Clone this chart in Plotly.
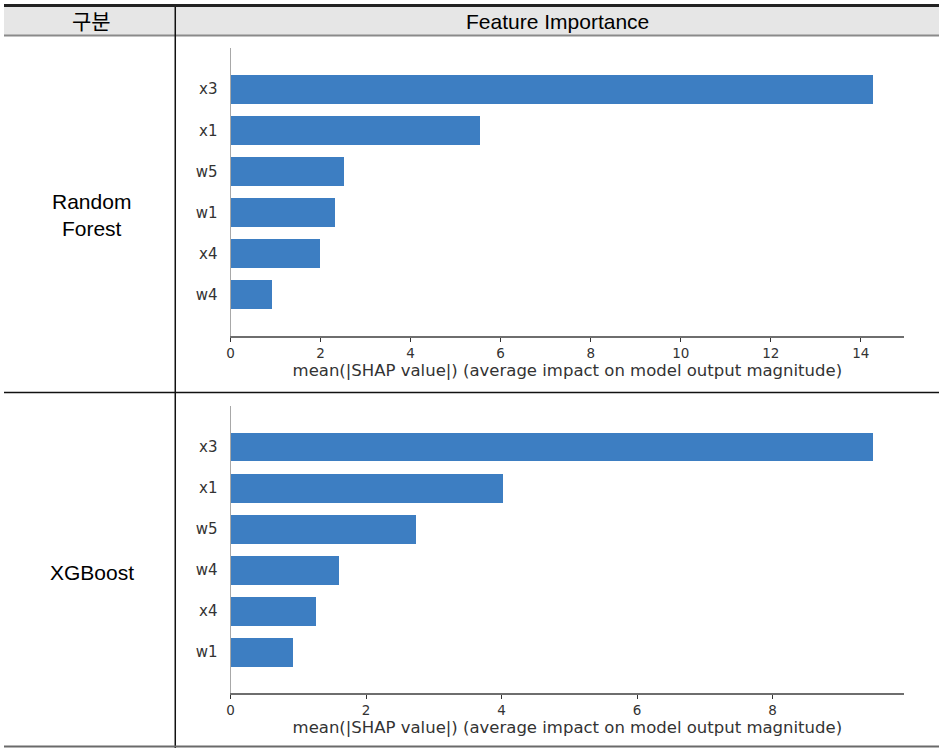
import plotly.graph_objects as go

# ---- data -------------------------------------------------------------
rf_features = ["x3", "x1", "w5", "w1", "x4", "w4"]
rf_importance = [14.25, 5.52, 2.50, 2.30, 1.98, 0.90]

xgb_features = ["x3", "x1", "w5", "w4", "x4", "w1"]
xgb_importance = [9.47, 4.01, 2.73, 1.60, 1.25, 0.92]

row_labels = ["Random<br>Forest", "XGBoost"]
header_labels = ["구분", "Feature Importance"]
x_title = "mean(|SHAP value|) (average impact on model output magnitude)"

# ---- page geometry ----------------------------------------------------
W, H = 939, 748
BAR_COLOR = "#3d7ec2"
AXIS_TXT = "#333333"
TABLE_FONT = "Liberation Sans, Noto Sans CJK KR, sans-serif"
PLOT_FONT = "DejaVu Sans, sans-serif"


def px_x(v):
    return v / W


def px_y(v):
    return 1 - v / H


fig = go.Figure()

panels = [
    (rf_features, rf_importance, "x", "y", (48, 336)),
    (xgb_features, xgb_importance, "x2", "y2", (405.7, 693.3)),
]

for i, (feats, vals, xa, ya, (top, bottom)) in enumerate(panels):
    n = len(feats)
    # SHAP-style ordering: largest at the top
    ypos = list(range(n - 1, -1, -1))
    fig.add_trace(go.Bar(
        x=vals, y=ypos, orientation="h", width=0.7,
        marker=dict(color=BAR_COLOR, line=dict(width=0)),
        xaxis=xa, yaxis=ya, showlegend=False, hoverinfo="x+text",
        text=feats, textposition="none",
    ))
    sfx = "" if i == 0 else str(i + 1)
    fig.layout["xaxis" + sfx] = dict(
        domain=[px_x(227.5), px_x(904)],
        anchor="y" + sfx,
        range=[0, max(vals) * 1.05],
        showgrid=False, zeroline=False,
        showline=True, linecolor="#6e6e6e", linewidth=1.6,
        ticks="outside", ticklen=4, tickcolor=AXIS_TXT, tickwidth=1,
        dtick=2,
        tickfont=dict(family=PLOT_FONT, size=13.5, color=AXIS_TXT),
        title=dict(text=x_title, standoff=4,
                   font=dict(family=PLOT_FONT, size=16.5, color=AXIS_TXT)),
        fixedrange=True,
    )
    fig.layout["yaxis" + sfx] = dict(
        domain=[px_y(bottom), px_y(top)],
        anchor="x" + sfx,
        range=[-1, n],
        showgrid=False, zeroline=False,
        showline=True, linecolor="#a8a8a8", linewidth=1,
        ticks="", ticklabelstandoff=9,
        tickmode="array", tickvals=ypos, ticktext=feats,
        tickfont=dict(family=PLOT_FONT, size=15, color=AXIS_TXT),
        fixedrange=True,
    )

# ---- table frame ------------------------------------------------------
shapes = [
    # header band
    dict(type="rect", x0=0, x1=1, y0=px_y(35), y1=px_y(6),
         fillcolor="#e6e6e6", line=dict(width=0), layer="below"),
    # thick top rule
    dict(type="line", x0=0, x1=1, y0=px_y(5.5), y1=px_y(5.5),
         line=dict(color="#222222", width=3)),
    # header bottom rule
    dict(type="line", x0=0, x1=1, y0=px_y(35.5), y1=px_y(35.5),
         line=dict(color="#8a8a8a", width=2)),
    # column divider
    dict(type="line", x0=px_x(172), x1=px_x(172), y0=px_y(7), y1=0,
         line=dict(color="#111111", width=1.5)),
    # row divider
    dict(type="line", x0=0, x1=1, y0=px_y(392.5), y1=px_y(392.5),
         line=dict(color="#111111", width=1.5)),
    # bottom rule
    dict(type="line", x0=0, x1=1, y0=px_y(746.5), y1=px_y(746.5),
         line=dict(color="#6a6a6a", width=2)),
]
for s in shapes:
    s.update(xref="paper", yref="paper")

annotations = [
    dict(text=header_labels[0], x=px_x(88), y=px_y(21)),
    dict(text=header_labels[1], x=px_x(556), y=px_y(21)),
    dict(text=row_labels[0], x=px_x(88), y=px_y(215)),
    dict(text=row_labels[1], x=px_x(88), y=px_y(572.5)),
]
for a in annotations:
    a.update(xref="paper", yref="paper", showarrow=False,
             xanchor="center", yanchor="middle",
             font=dict(family=TABLE_FONT, size=21, color="#000000"))

fig.update_layout(
    width=W, height=H,
    margin=dict(l=0, r=0, t=0, b=0),
    paper_bgcolor="white", plot_bgcolor="white",
    shapes=shapes, annotations=annotations,
    bargap=0,
)

fig.write_html("out.html", config={"displayModeBar": False})
